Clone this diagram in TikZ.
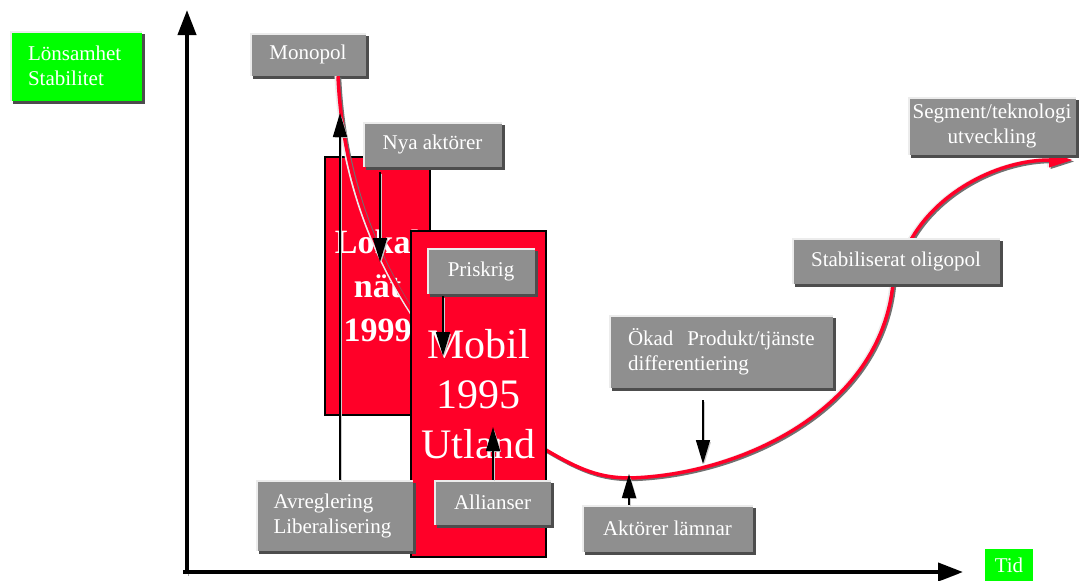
\documentclass[tikz,border=0pt]{standalone}
\usepackage{fontspec}
\setmainfont{Liberation Serif}
\usetikzlibrary{arrows.meta, shadows}
\definecolor{boxgray}{RGB}{143,143,143}
\definecolor{shadowgray}{RGB}{77,77,77}
\definecolor{marketred}{RGB}{255,0,40}
\definecolor{signalgreen}{RGB}{0,255,0}
\tikzstyle{shadowed}=[preaction={draw=#1, transform canvas={shift={(1.5pt,-1.5pt)}}}]
\tikzstyle{label box}=[fill=boxgray, text=white, inner sep=0pt, font=\fontsize{21}{25}\selectfont,
  drop shadow={shadow xshift=3pt, shadow yshift=-3pt, fill=shadowgray, opacity=1},
  path picture={\draw[white!85!gray, line width=3pt] (path picture bounding box.south west) |- (path picture bounding box.north east);}]
\tikzstyle{green box}=[label box, fill=signalgreen]
\tikzstyle{market}=[fill=marketred, draw=black, line width=1.5pt, text=white, align=center, inner sep=0pt]
\tikzstyle{axis}=[line width=4pt, shadowed=gray!70, -{Triangle[length=25pt,width=18pt]}]
\tikzstyle{force}=[line width=1.5pt, shadowed=gray!40, -{Triangle[length=24pt,width=14pt]}]
\tikzstyle{trend}=[line width=3.5pt, marketred, -{Triangle[length=24pt,width=14pt]},
  preaction={draw=white!85!gray, line width=3.5pt, transform canvas={shift={(-1.8pt,0pt)}}},
  preaction={draw=shadowgray!80, line width=3.5pt, transform canvas={shift={(1.5pt,-1.5pt)}}}]

\begin{document}
\begin{tikzpicture}[x=1pt, y=-1pt]
  \useasboundingbox (0,0) rectangle (1079,581);
  % axes
  \coordinate (origin) at (187,572);
  \coordinate (ytop) at (187,10);
  \coordinate (xend) at (963,572);
  \draw[axis] ([yshift=-2pt]origin) -- (ytop);
  \draw[axis] ([xshift=-4pt]origin) -- (xend);
  \node[green box, minimum width=132pt, minimum height=70pt, text width=96pt, align=left] (profit) at (76,66) {Lönsamhet\\Stabilitet};
  \node[fill=signalgreen, text=white, inner sep=0pt, minimum width=48pt, minimum height=32pt, font=\fontsize{21}{25}\selectfont] (time) at (1009,565) {Tid};

  % markets
  \node[market, minimum width=105pt, minimum height=258pt, font=\fontsize{34}{44}\selectfont\bfseries] (local) at (377.5,286) {Lokal\\nät\\1999};
  \coordinate (trendend) at (1073,160);
  \node[label box, minimum width=116pt, minimum height=43pt] (mono) at (308,54.5) {Monopol};
  \draw[trend] ([xshift=30pt]mono.south) .. controls (345,230) and (420,360) .. (546,450)
    .. controls (580,470) and (600,478) .. (630,478)
    .. controls (740,475) and (880,410) .. (893,284)
    .. controls (897,262) and (903,250) .. (912,238)
    .. controls (940,190) and (1000,160) .. (trendend);
  \node[market, minimum width=135pt, minimum height=326pt, font=\fontsize{42}{50}\selectfont] (mobile) at (478.5,394) {Mobil\\1995\\Utland};

  % forces
  \node[label box, minimum width=139pt, minimum height=45pt] (new) at (432.5,144.5) {Nya aktörer};
  \node[label box, minimum width=108pt, minimum height=46pt] (price) at (481,271) {Priskrig};
  \node[label box, minimum width=157pt, minimum height=71pt, text width=122pt, align=left] (dereg) at (334.5,515.5) {Avreglering\\Liberalisering};
  \node[label box, minimum width=117pt, minimum height=45pt] (alliance) at (492.5,502.5) {Allianser};
  \node[label box, minimum width=171pt, minimum height=47pt] (exit) at (667.5,528.5) {Aktörer lämnar};
  \node[label box, minimum width=224pt, minimum height=73pt, text width=186pt, align=left] (diff) at (721,351.5) {\mbox{Ökad\ \ Produkt/tjänste}\\differentiering};
  \node[label box, minimum width=208pt, minimum height=46pt] (oligo) at (896,261) {Stabiliserat oligopol};
  \node[label box, minimum width=168pt, minimum height=58pt, align=center] (segment) at (992,126) {Segment/teknologi\\utveckling};

  \coordinate (t1) at (340,113);
  \coordinate (t2) at (380,262);
  \coordinate (t3) at (443,356);
  \coordinate (t4) at (493,427);
  \coordinate (t5) at (703,464);
  \coordinate (t6) at (629,474);
  \draw[force] (dereg.north -| t1) -- (t1);
  \draw[force] ([yshift=-5pt]new.south -| t2) -- (t2);
  \draw[force] ([yshift=-2pt]price.south -| t3) -- (t3);
  \draw[force] (alliance.north -| t4) -- (t4);
  \draw[force] ([yshift=-12pt]diff.south -| t5) -- (t5);
  \draw[force] (exit.north -| t6) -- (t6);
\end{tikzpicture}
\end{document}
